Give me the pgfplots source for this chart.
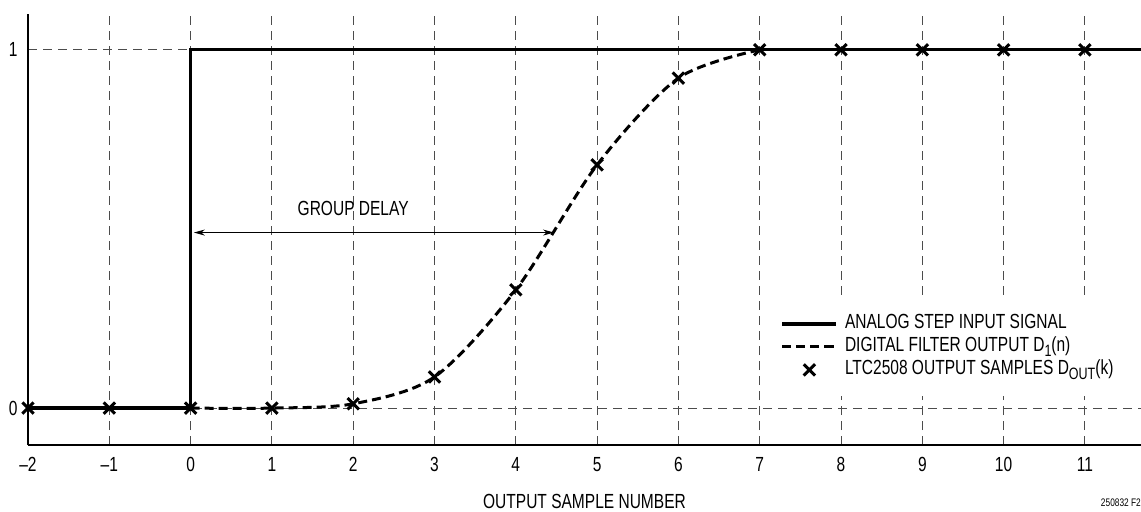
\documentclass[border=0pt]{standalone}
\usepackage{fontspec}
\setmainfont{Liberation Sans}[FakeStretch=0.76]
\usepackage{pgfplots}
\pgfplotsset{compat=1.18}
\usetikzlibrary{arrows.meta}
\begin{document}
\begin{tikzpicture}
\path[use as bounding box] (-28bp,-67bp) rectangle (1113bp,445bp);
\begin{axis}[
  at={(0,0)}, anchor=south west,
  scale only axis, width=1113bp, height=431bp,
  xmin=-2, xmax=11.69, ymin=-0.103, ymax=1.10,
  axis x line=bottom, axis y line=left,
  axis line style={-, line width=1.5bp},
  xtick={-2,-1,0,1,2,3,4,5,6,7,8,9,10,11},
  xticklabels={\textendash2,\textendash1,0,1,2,3,4,5,6,7,8,9,10,11},
  ytick={0,1}, yticklabels={0,1},
  major tick length=0pt,
  grid=major,
  major grid style={black!70, line width=1bp, dash pattern=on 9bp off 6bp},
  tick label style={font=\fontsize{20.5}{22}\selectfont},
  xticklabel style={yshift=-9bp},
  yticklabel style={xshift=-7bp},
  xlabel={OUTPUT SAMPLE NUMBER},
  xlabel style={at={(axis description cs:0.5,0)}, anchor=center, inner sep=0pt, yshift=-56.5bp, font=\fontsize{20.5}{22}\selectfont},
  clip=false,
  legend image code/.code={\draw[mark repeat=2,mark phase=2,#1] plot coordinates {(0bp,0bp) (27bp,0bp) (54bp,0bp)};},
  legend cell align=left,
  legend style={draw=none, fill=white, at={(axis cs:7.134,0.308)}, anchor=north west,
    inner xsep=10bp, inner ysep=15bp,
    font=\fontsize{20.5}{22}\selectfont, row sep=1bp,
    /tikz/every odd column/.append style={column sep=5bp},
    nodes={inner sep=2bp, text height=14bp, text depth=4bp}},
]
\addplot[black, line width=3.2bp] coordinates {(-2,0) (0,0) (0,1) (11.69,1)};
\addlegendentry{ANALOG STEP INPUT SIGNAL}
\addplot[black, line width=3bp, dash pattern=on 9bp off 5bp, smooth] coordinates {
(0,0) (1,0) (2,0.012) (3,0.087) (4,0.33) (5,0.679) (6,0.921) (7,1.0)};
\addlegendentry{DIGITAL FILTER OUTPUT D\raisebox{-0.4ex}{\fontsize{16.5}{16}\selectfont 1}(n)}
\addplot[black, only marks, mark=x, mark size=8bp, mark options={line width=3bp}] coordinates {
(-2,0) (-1,0) (0,0) (1,0) (2,0.012) (3,0.087) (4,0.33) (5,0.679) (6,0.921) (7,1) (8,1) (9,1) (10,1) (11,1)};
\addlegendentry{LTC2508 OUTPUT SAMPLES D\raisebox{-0.4ex}{\fontsize{16.5}{16}\selectfont OUT}(k)}
\draw[{Stealth[length=11bp,width=6bp]}-{Stealth[length=11bp,width=6bp]}, line width=0.9bp] (axis cs:0.04,0.49) -- (axis cs:4.47,0.49);
\node[font=\fontsize{20.5}{22}\selectfont] at (axis cs:2.0,0.558) {GROUP DELAY};
\end{axis}
\node[anchor=east, font=\fontsize{11}{12}\selectfont, inner sep=0pt] at (1113bp,-58bp) {250832 F2};
\end{tikzpicture}
\end{document}
